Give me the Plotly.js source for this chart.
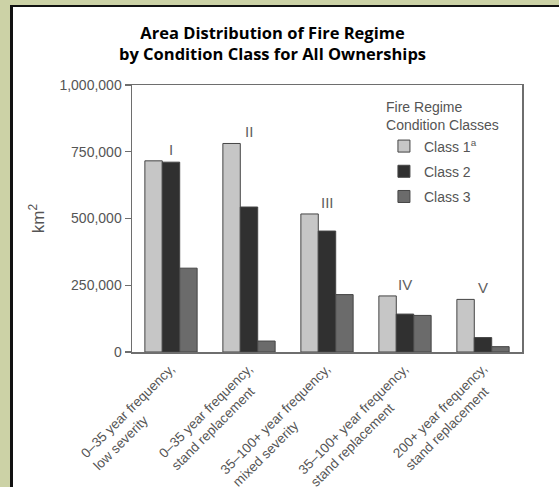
<!DOCTYPE html>
<html>
<head>
<meta charset="utf-8">
<script src="https://cdn.plot.ly/plotly-3.0.1.min.js"></script>
<style>
  html, body { margin: 0; padding: 0; background: #ccd2a6; width: 559px; height: 487px; overflow: hidden; }
  #panel { position: absolute; left: 10px; top: 5px; width: 600px; height: 600px; background: #ffffff;
           border-left: 3px solid #111111; border-top: 2px solid #111111; }
  #chart { position: absolute; left: 0; top: 0; width: 559px; height: 487px; }
</style>
</head>
<body>
<div id="panel"></div>
<div id="chart"></div>
<script>
// ---- data ----
const categories = [
  "0–35 year frequency,<br>low severity",
  "0–35 year frequency,<br>stand replacement",
  "35–100+ year frequency,<br>mixed severity",
  "35–100+ year frequency,<br>stand replacement",
  "200+ year frequency,<br>stand replacement"
];
const groupLabels = ["I", "II", "III", "IV", "V"];
const seriesNames = ["Class 1<sup>a</sup>", "Class 2", "Class 3"];
const class1 = [716000, 781000, 517000, 210000, 197000];
const class2 = [711000, 543000, 453000, 142000, 54000];
const class3 = [314000, 41000, 215000, 137000, 20000];
const yTickVals = [0, 250000, 500000, 750000, 1000000];
const yTickText = ["0", "250,000", "500,000", "750,000", "1,000,000"];

const colors = ["#c6c6c6", "#303030", "#6b6b6b"];
const values = [class1, class2, class3];
const grey = "#555555";
const fontFamily = "Liberation Sans, Arial, sans-serif";

const traces = values.map((v, i) => ({
  type: "bar",
  x: categories,
  y: v,
  name: seriesNames[i],
  legendgroup: "g" + i,
  marker: { color: colors[i], line: { color: "#444444", width: 1 } },
  hoverinfo: "y+name"
}));

const annotations = [];
categories.forEach((c, i) => {
  const maxV = Math.max(class1[i], class2[i], class3[i]);
  annotations.push({
    x: c, y: maxV, xref: "x", yref: "y",
    text: groupLabels[i], showarrow: false,
    yanchor: "bottom", xanchor: "center", yshift: 1,
    font: { family: fontFamily, size: 15, color: "#606060" }
  });
  annotations.push({
    x: c, y: 0, xref: "x", yref: "paper",
    text: c, showarrow: false, textangle: -45, align: "left",
    xanchor: "right", yanchor: "top", xshift: 22, yshift: -6,
    font: { family: fontFamily, size: 13.5, color: grey }
  });
});

const layout = {
  width: 559, height: 487,
  paper_bgcolor: "rgba(0,0,0,0)",
  plot_bgcolor: "#ffffff",
  margin: { l: 132, r: 37, t: 85, b: 135 },
  font: { family: fontFamily, color: grey },
  title: {
    text: "<b>Area Distribution of Fire Regime<br>by Condition Class for All Ownerships</b>",
    font: { family: "Open Sans, sans-serif", size: 16.5, color: "#000000" },
    xref: "container", x: 272.5 / 559, xanchor: "center",
    yref: "container", y: 1 - 39 / 487, yanchor: "top"
  },
  barmode: "group",
  bargap: 0.33,
  bargroupgap: 0,
  showlegend: true,
  legend: {
    x: 0.646, y: 0.966, xanchor: "left", yanchor: "top",
    bgcolor: "rgba(0,0,0,0)",
    font: { family: fontFamily, size: 14, color: grey },
    title: { text: "Fire Regime<br>Condition Classes", side: "top center",
             font: { family: fontFamily, size: 14, color: grey } },
    tracegroupgap: 4
  },
  xaxis: {
    type: "category",
    range: [-0.5, 4.5],
    showticklabels: false,
    ticks: "",
    showgrid: false, zeroline: false,
    showline: true, mirror: true, linecolor: "#6e6e6e", linewidth: 1.5
  },
  yaxis: {
    range: [0, 1000000],
    tickvals: yTickVals, ticktext: yTickText,
    ticks: "outside", ticklen: 6, tickcolor: "#6e6e6e", tickwidth: 1.2,
    tickfont: { family: fontFamily, size: 14, color: grey },
    showgrid: false, zeroline: false,
    showline: true, mirror: true, linecolor: "#6e6e6e", linewidth: 1.5,
    title: { text: "km<sup>2</sup>", font: { family: fontFamily, size: 17, color: grey }, standoff: 10 }
  },
  annotations: annotations
};

Plotly.newPlot("chart", traces, layout, { displayModeBar: false, staticPlot: true });
</script>
</body>
</html>
